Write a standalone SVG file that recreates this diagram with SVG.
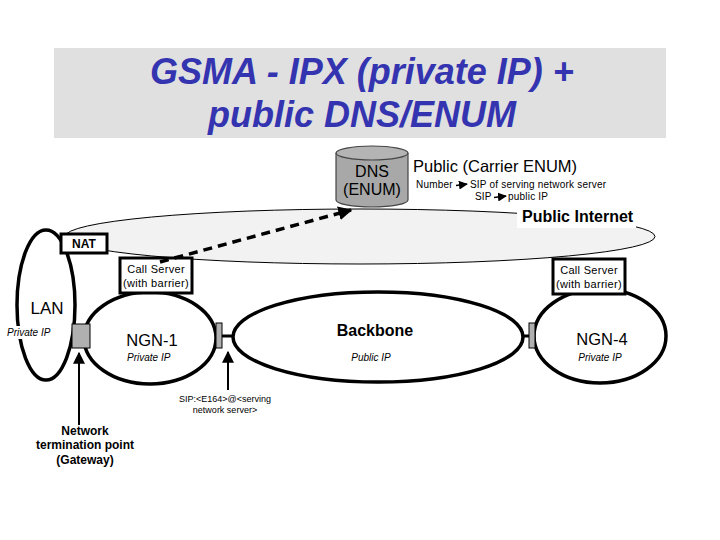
<svg xmlns="http://www.w3.org/2000/svg" width="720" height="540" viewBox="0 0 720 540">
<defs>
<style>
text{font-family:"Liberation Sans",Arial,sans-serif;fill:#000}
.title{font-size:36px;font-weight:bold;font-style:italic;fill:#3434b0;text-anchor:middle}
.net{fill:#fff;stroke:#000;stroke-width:3.5}
.box{fill:#fff;stroke:#000;stroke-width:3}
.gw{fill:#b0b0b0;stroke:#000;stroke-width:1}
.small{font-size:11px;text-anchor:middle;letter-spacing:0.3px}
.ip{font-size:10px;font-style:italic}
.big{font-size:16.5px;text-anchor:middle}
.bold{font-weight:bold}
.tiny{font-size:10px;letter-spacing:0.2px}
</style>
<marker id="ah" viewBox="0 0 10 10" refX="9" refY="5" markerWidth="4" markerHeight="4" orient="auto">
<path d="M0,0 L10,5 L0,10 z" fill="#000"/>
</marker>
<marker id="ah2" viewBox="0 0 10 10" refX="9" refY="5" markerWidth="6" markerHeight="6" orient="auto">
<path d="M0,0 L10,5 L0,10 z" fill="#000"/>
</marker>
</defs>
<rect width="720" height="540" fill="#fff"/>
<g id="title">
<rect x="54" y="48" width="612" height="90" fill="#e0e0e0"/>
<text class="title" x="362" y="84">GSMA - IPX (private IP) +</text>
<text class="title" x="362" y="127">public DNS/ENUM</text>
</g>
<g id="internet">
<ellipse cx="360" cy="236.5" rx="295" ry="27.5" fill="#f2f2f2" stroke="#000" stroke-width="1"/>
<rect x="517" y="205" width="119" height="23" fill="#fff"/>
<text x="522" y="222" font-size="16" class="bold">Public Internet</text>
</g>
<g id="dns">
<path d="M336,153 L336,200 A36,7 0 0 0 408,200 L408,153" fill="#a8a8a8" stroke="#444" stroke-width="1.2"/>
<ellipse cx="372" cy="153" rx="36" ry="7" fill="#b4b4b4" stroke="#444" stroke-width="1.2"/>
<text x="372" y="177" font-size="16" text-anchor="middle">DNS</text>
<text x="372" y="195" font-size="16" text-anchor="middle">(ENUM)</text>
</g>
<g id="enum-info">
<text x="413" y="172" font-size="16.5">Public (Carrier ENUM)</text>
<text class="tiny" x="416" y="188">Number</text>
<text class="tiny" x="470" y="188">SIP of serving network server</text>
<text class="tiny" x="475" y="200">SIP</text>
<text class="tiny" x="508" y="200">public IP</text>
<line x1="456" y1="185.5" x2="467" y2="184" stroke="#000" stroke-width="1.5" marker-end="url(#ah2)"/>
<line x1="494" y1="197.5" x2="506" y2="196" stroke="#000" stroke-width="1.5" marker-end="url(#ah2)"/>
</g>
<g id="lan">
<ellipse cx="46" cy="305" rx="29" ry="75" fill="none" stroke="#000" stroke-width="3.5"/>
<rect x="30" y="297" width="36" height="20" fill="#fff"/>
<text x="47" y="314" font-size="17" text-anchor="middle">LAN</text>
<rect x="5" y="326" width="50" height="13" fill="#fff"/>
<text class="ip" x="7" y="336">Private IP</text>
</g>
<g id="nat">
<rect class="box" x="61" y="234" width="46" height="19"/>
<text x="84" y="248" font-size="12" text-anchor="middle" class="bold">NAT</text>
</g>
<g id="ngn1">
<ellipse class="net" cx="150" cy="338" rx="66" ry="46"/>
<text class="big" x="152" y="346">NGN-1</text>
<text class="ip" x="127" y="361">Private IP</text>
</g>
<g id="backbone">
<ellipse class="net" cx="378" cy="337" rx="145" ry="45"/>
<text x="375" y="336" font-size="16" text-anchor="middle" class="bold">Backbone</text>
<text class="ip" x="371" y="361" text-anchor="middle">Public IP</text>
</g>
<g id="ngn4">
<ellipse class="net" cx="600" cy="336" rx="66" ry="47"/>
<text class="big" x="602" y="345">NGN-4</text>
<text class="ip" x="600" y="361" text-anchor="middle">Private IP</text>
</g>
<g id="cs1">
<rect class="box" x="120" y="258" width="72" height="35"/>
<text class="small" x="156" y="273">Call Server</text>
<text class="small" x="156" y="287">(with barrier)</text>
</g>
<g id="cs4">
<rect class="box" x="553" y="259" width="72" height="35"/>
<text class="small" x="589" y="274">Call Server</text>
<text class="small" x="589" y="288">(with barrier)</text>
</g>
<g id="connectors">
<line x1="160" y1="262" x2="351" y2="210" stroke="#000" stroke-width="3.5" stroke-dasharray="9,6" marker-end="url(#ah)"/>
<line x1="222" y1="336" x2="234" y2="336" stroke="#000" stroke-width="3"/>
<line x1="522" y1="336" x2="529" y2="336" stroke="#000" stroke-width="3"/>
<rect class="gw" x="216" y="323" width="6" height="25"/>
<rect class="gw" x="529" y="323" width="6" height="25"/>
<rect class="gw" x="72" y="324" width="18" height="24"/>
<line x1="79" y1="425" x2="79" y2="353" stroke="#000" stroke-width="2" marker-end="url(#ah2)"/>
<line x1="228" y1="390" x2="228" y2="352" stroke="#000" stroke-width="2" marker-end="url(#ah2)"/>
</g>
<g id="labels">
<text x="225" y="402" font-size="9" text-anchor="middle">SIP:&lt;E164&gt;@&lt;serving</text>
<text x="225" y="413" font-size="9" text-anchor="middle">network server&gt;</text>
<text x="85" y="435" font-size="12" text-anchor="middle" class="bold">Network</text>
<text x="85" y="449" font-size="12" text-anchor="middle" class="bold">termination point</text>
<text x="85" y="464" font-size="12" text-anchor="middle" class="bold">(Gateway)</text>
</g>
</svg>
